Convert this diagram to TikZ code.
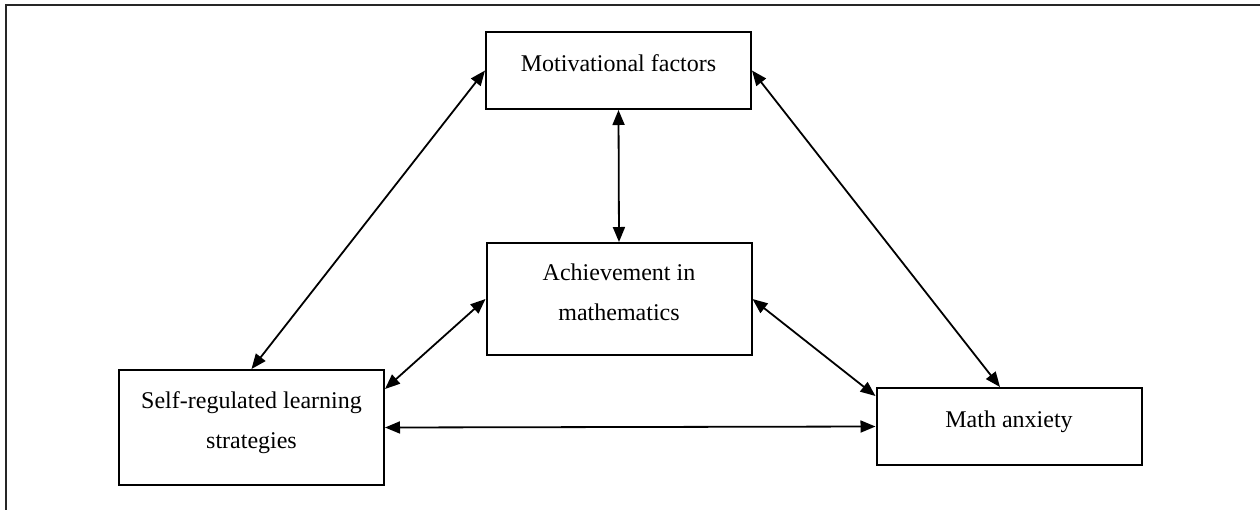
\documentclass[tikz,border=0pt]{standalone}
\usepackage{fontspec}
\setmainfont{Liberation Serif}
\usepackage{tikz}
\usetikzlibrary{shapes,arrows.meta,positioning}
\tikzstyle{box} = [rectangle, draw, line width=1pt, align=center, text depth=7pt, font=\fontsize{12}{20}\selectfont, minimum width=132.5pt]
\tikzstyle{line} = [draw, line width=0.9pt, {Triangle[length=7.5pt,width=6pt]}-{Triangle[length=7.5pt,width=6pt]}]
\tikzstyle{frame} = [draw, line width=1.3pt, black!85]

\begin{document}
\begin{tikzpicture}[x=0.5pt, y=-0.5pt]
				\useasboundingbox (0,0) rectangle (1260,510);
				\path [frame] (1260,5) -- (6,5) -- (6,510);

				\node [box, minimum height=38.5pt] (mot) at (618.5, 70.5) {Motivational factors};
				\node [box, minimum height=56pt] (ach) at (619, 299) {Achievement in\\mathematics};
				\node [box, minimum height=57.5pt] (self) at (251.5, 427.5) {Self-regulated learning\\strategies};
				\node [box, minimum height=38.5pt] (math) at (1009, 426.5) {Math anxiety};

				\path [line] (mot.south) -- (ach.north);
				\path [line] (mot.west) -- (self.north);
				\path [line] (mot.east) -- ([xshift=-4.5pt]math.north);
				\path [line] (ach.west) -- ([yshift=-10pt]self.north east);
				\path [line] (ach.east) -- ([yshift=-4.5pt]math.north west);
				\path [line] (self.east) -- (math.west);
			\end{tikzpicture}
\end{document}
